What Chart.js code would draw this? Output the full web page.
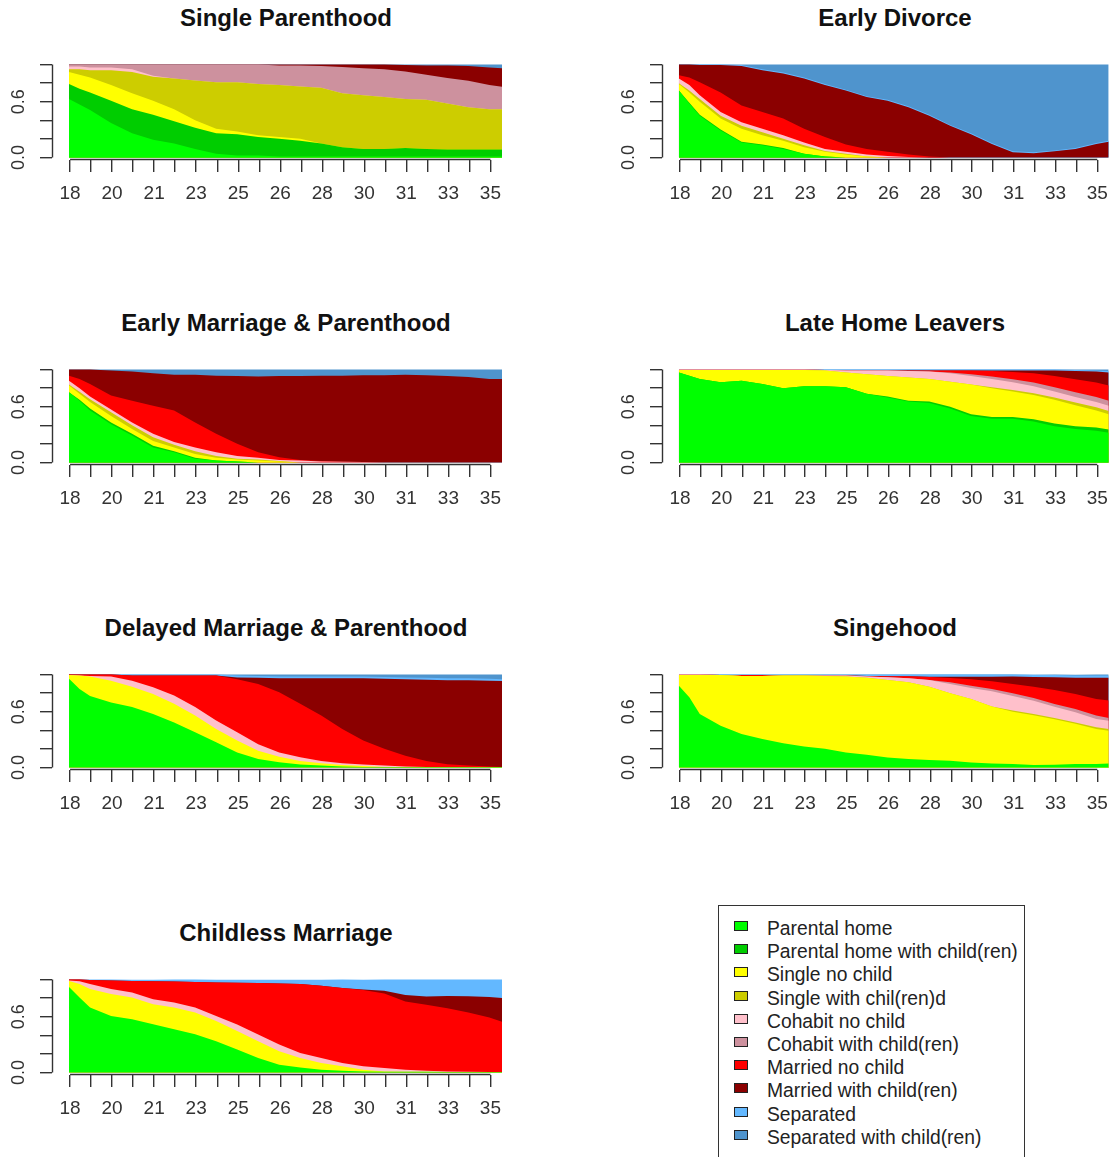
<!DOCTYPE html>
<html>
<head>
<meta charset="utf-8">
<title>State distribution plots by cluster</title>
<script src="https://cdn.jsdelivr.net/npm/chart.js@4/dist/chart.umd.min.js"></script>
<style>
  html, body { margin: 0; padding: 0; background: #fff; overflow: hidden; }
  #page { position: relative; width: 1118px; height: 1157px; }
  .title { position: absolute; width: 450px; text-align: center; white-space: nowrap;
           font: bold 24px "Liberation Sans", Arial, sans-serif; line-height: 24px; color: #111; }
  canvas { position: absolute; }
  #legend { position: absolute; left: 718px; top: 905px; width: 307px; height: 300px;
            border: 1px solid #333; box-sizing: border-box; }
  .item { position: absolute; left: 0; height: 23px; white-space: nowrap;
          font: 19.3px "Liberation Sans", Arial, sans-serif; line-height: 23px; color: #222; }
  .swatch { position: absolute; left: 15px; top: 4px; width: 14px; height: 10px;
            border: 1px solid #222; box-sizing: border-box; }
  .label { position: absolute; left: 48px; top: 0; }
</style>
</head>
<body>
<div id="page"><div id="legend"></div></div>
<script>
// Months since the 18th birthday at which the state shares are sampled
const months = [0, 5, 10, 20, 30, 40, 50, 60, 70, 80, 90, 100, 110, 120, 130, 140, 150, 160, 170, 180, 190, 200, 206];

// Axis ticks: one every 10 months, ages printed on every other tick
const tickMonths = [0, 10, 20, 30, 40, 50, 60, 70, 80, 90, 100, 110, 120, 130, 140, 150, 160, 170, 180, 190, 200];
const ageTickLabels = ['18', '20', '21', '23', '25', '26', '28', '30', '31', '33', '35'];
const shareTicks = [0, 0.2, 0.4, 0.6, 0.8, 1.0];
const shareTickLabels = ['0.0', '', '', '0.6', '', ''];

// Living arrangement states (stacked bottom to top)
const stateLabels = ['Parental home', 'Parental home with child(ren)', 'Single no child', 'Single with chil(ren)d',
  'Cohabit no child', 'Cohabit with child(ren)', 'Married no child', 'Married with child(ren)',
  'Separated', 'Separated with child(ren)'];
const stateColors = ['#00FF00', '#00CD00', '#FFFF00', '#CDCD00', '#FFC0CB', '#CD919E', '#FF0000', '#8B0000', '#63B8FF', '#4F94CD'];

// Single Parenthood
const sp_parental = [0.63, 0.57, 0.51, 0.37, 0.26, 0.19, 0.15, 0.09, 0.04, 0.02, 0.02, 0.01, 0.01, 0.01, 0.01, 0.01, 0.01, 0.01, 0.01, 0.01, 0.01, 0.01, 0.01];
const sp_parentalChild = [0.16, 0.17, 0.19, 0.24, 0.26, 0.27, 0.24, 0.23, 0.22, 0.23, 0.20, 0.19, 0.17, 0.14, 0.10, 0.08, 0.08, 0.09, 0.08, 0.075, 0.075, 0.075, 0.075];
const sp_single = [0.13, 0.15, 0.16, 0.17, 0.17, 0.15, 0.13, 0.08, 0.05, 0.03, 0.02, 0.02, 0.02, 0, 0, 0, 0, 0, 0, 0, 0, 0, 0];
const sp_singleChild = [0.03, 0.06, 0.08, 0.16, 0.23, 0.26, 0.33, 0.43, 0.50, 0.53, 0.55, 0.56, 0.565, 0.60, 0.58, 0.58, 0.56, 0.53, 0.53, 0.495, 0.455, 0.435, 0.435];
const sp_cohabit = [0.03, 0.03, 0.03, 0.03, 0.03, 0.01, 0, 0, 0, 0, 0, 0, 0, 0, 0, 0, 0, 0, 0, 0, 0, 0, 0];
const sp_cohabitChild = [0.02, 0.02, 0.03, 0.03, 0.05, 0.12, 0.15, 0.17, 0.19, 0.19, 0.21, 0.21, 0.225, 0.235, 0.285, 0.29, 0.30, 0.295, 0.27, 0.275, 0.285, 0.26, 0.24];
const sp_marriedChild = [0, 0, 0, 0, 0, 0, 0, 0, 0, 0, 0, 0.01, 0.01, 0.015, 0.025, 0.04, 0.05, 0.07, 0.10, 0.135, 0.16, 0.19, 0.20];
const sp_separatedChild = [0, 0, 0, 0, 0, 0, 0, 0, 0, 0, 0, 0, 0, 0, 0, 0, 0, 0.005, 0.01, 0.01, 0.015, 0.03, 0.04];

// Early Divorce
const ed_parental = [0.72, 0.58, 0.45, 0.29, 0.16, 0.13, 0.09, 0.04, 0.01, 0, 0, 0, 0, 0, 0, 0, 0, 0, 0, 0, 0, 0, 0];
const ed_parentalChild = [0, 0.01, 0.01, 0.01, 0.01, 0.01, 0.01, 0, 0, 0, 0, 0, 0, 0, 0, 0, 0, 0, 0, 0, 0, 0, 0];
const ed_single = [0.07, 0.11, 0.14, 0.12, 0.14, 0.10, 0.08, 0.07, 0.05, 0.03, 0.01, 0, 0, 0, 0, 0, 0, 0, 0, 0, 0, 0, 0];
const ed_singleChild = [0.01, 0.02, 0.03, 0.03, 0.03, 0.03, 0.02, 0.02, 0.01, 0.01, 0, 0, 0, 0, 0, 0, 0, 0, 0, 0, 0, 0, 0];
const ed_cohabit = [0.05, 0.06, 0.04, 0.04, 0.04, 0.04, 0.04, 0.03, 0.02, 0.02, 0.02, 0.015, 0.005, 0, 0, 0, 0, 0, 0, 0, 0, 0, 0];
const ed_married = [0.035, 0.08, 0.14, 0.21, 0.18, 0.18, 0.18, 0.15, 0.13, 0.08, 0.06, 0.045, 0.025, 0.01, 0, 0, 0, 0, 0, 0, 0, 0, 0];
const ed_marriedChild = [0.115, 0.14, 0.185, 0.295, 0.425, 0.45, 0.485, 0.54, 0.56, 0.58, 0.56, 0.55, 0.51, 0.44, 0.34, 0.25, 0.145, 0.055, 0.045, 0.065, 0.09, 0.145, 0.17];
const ed_separated = [0, 0, 0.005, 0.005, 0.01, 0.01, 0.01, 0.01, 0.01, 0.01, 0.01, 0.01, 0.01, 0.01, 0.01, 0.01, 0.01, 0.01, 0.01, 0.01, 0.01, 0.01, 0.01];
const ed_separatedChild = [0, 0, 0, 0, 0.005, 0.05, 0.085, 0.14, 0.21, 0.27, 0.34, 0.38, 0.45, 0.54, 0.65, 0.74, 0.845, 0.935, 0.945, 0.925, 0.90, 0.845, 0.82];

// Early Marriage & Parenthood
const em_parental = [0.755, 0.665, 0.56, 0.41, 0.29, 0.16, 0.11, 0.04, 0.02, 0.01, 0, 0, 0, 0, 0, 0, 0, 0, 0, 0, 0, 0, 0];
const em_parentalChild = [0, 0.01, 0.02, 0.02, 0.02, 0.02, 0.01, 0.01, 0, 0, 0, 0, 0, 0, 0, 0, 0, 0, 0, 0, 0, 0, 0];
const em_single = [0.075, 0.065, 0.07, 0.07, 0.05, 0.05, 0.04, 0.04, 0.03, 0.02, 0.02, 0.01, 0, 0, 0, 0, 0, 0, 0, 0, 0, 0, 0];
const em_singleChild = [0.01, 0.02, 0.03, 0.04, 0.04, 0.04, 0.03, 0.03, 0.02, 0.01, 0.01, 0.005, 0, 0, 0, 0, 0, 0, 0, 0, 0, 0, 0];
const em_cohabit = [0.04, 0.04, 0.03, 0.03, 0.03, 0.04, 0.03, 0.04, 0.04, 0.03, 0.02, 0.01, 0.02, 0.01, 0.007, 0.004, 0, 0, 0, 0, 0, 0, 0];
const em_married = [0.055, 0.10, 0.135, 0.15, 0.235, 0.30, 0.34, 0.27, 0.20, 0.13, 0.06, 0.03, 0.005, 0.005, 0, 0, 0, 0, 0, 0, 0, 0, 0];
const em_marriedChild = [0.065, 0.10, 0.155, 0.27, 0.315, 0.35, 0.385, 0.515, 0.625, 0.73, 0.815, 0.875, 0.905, 0.92, 0.928, 0.936, 0.94, 0.945, 0.94, 0.93, 0.92, 0.90, 0.90];
const em_separatedChild = [0, 0, 0, 0.01, 0.02, 0.04, 0.055, 0.055, 0.065, 0.07, 0.075, 0.07, 0.07, 0.065, 0.065, 0.06, 0.06, 0.055, 0.06, 0.07, 0.08, 0.10, 0.10];

// Late Home Leavers
const lh_parental = [0.97, 0.935, 0.90, 0.865, 0.88, 0.845, 0.80, 0.82, 0.82, 0.81, 0.74, 0.70, 0.655, 0.64, 0.58, 0.50, 0.47, 0.47, 0.44, 0.39, 0.36, 0.34, 0.32];
const lh_parentalChild = [0, 0, 0, 0, 0, 0, 0, 0, 0, 0, 0, 0.01, 0.01, 0.015, 0.02, 0.02, 0.02, 0.02, 0.025, 0.03, 0.03, 0.035, 0.035];
const lh_single = [0.025, 0.06, 0.095, 0.13, 0.115, 0.15, 0.195, 0.175, 0.17, 0.16, 0.21, 0.22, 0.25, 0.245, 0.27, 0.32, 0.31, 0.275, 0.26, 0.255, 0.225, 0.185, 0.165];
const lh_singleChild = [0, 0, 0, 0, 0, 0, 0, 0, 0, 0, 0, 0, 0, 0, 0, 0, 0.01, 0.015, 0.02, 0.025, 0.03, 0.035, 0.035];
const lh_cohabit = [0.005, 0.005, 0.005, 0.005, 0.005, 0.005, 0.005, 0.005, 0.005, 0.02, 0.04, 0.06, 0.07, 0.08, 0.09, 0.09, 0.09, 0.085, 0.075, 0.065, 0.06, 0.055, 0.055];
const lh_cohabitChild = [0, 0, 0, 0, 0, 0, 0, 0, 0, 0, 0, 0, 0, 0, 0.01, 0.02, 0.025, 0.03, 0.04, 0.045, 0.05, 0.055, 0.055];
const lh_married = [0, 0, 0, 0, 0, 0, 0, 0, 0, 0, 0, 0, 0.005, 0.01, 0.02, 0.04, 0.06, 0.08, 0.10, 0.12, 0.14, 0.155, 0.165];
const lh_marriedChild = [0, 0, 0, 0, 0, 0, 0, 0, 0, 0, 0, 0, 0, 0, 0, 0, 0.005, 0.015, 0.03, 0.06, 0.09, 0.12, 0.14];
const lh_separated = [0, 0, 0, 0, 0, 0, 0, 0, 0.005, 0.01, 0.01, 0.01, 0.01, 0.01, 0.01, 0.01, 0.01, 0.01, 0.01, 0.01, 0.01, 0.01, 0.015];
const lh_separatedChild = [0, 0, 0, 0, 0, 0, 0, 0, 0, 0, 0, 0, 0, 0, 0, 0, 0, 0, 0, 0, 0.005, 0.01, 0.015];

// Delayed Marriage & Parenthood
const dm_parental = [0.955, 0.845, 0.77, 0.70, 0.65, 0.575, 0.485, 0.38, 0.27, 0.16, 0.09, 0.055, 0.03, 0.02, 0.01, 0.005, 0.005, 0.005, 0.005, 0.005, 0.005, 0.005, 0.005];
const dm_single = [0.04, 0.145, 0.21, 0.235, 0.22, 0.215, 0.20, 0.18, 0.145, 0.13, 0.09, 0.06, 0.04, 0.025, 0.015, 0.01, 0, 0, 0, 0, 0, 0, 0];
const dm_cohabit = [0, 0, 0.005, 0.045, 0.065, 0.075, 0.09, 0.09, 0.09, 0.09, 0.07, 0.045, 0.04, 0.025, 0.02, 0.015, 0.015, 0.005, 0, 0, 0, 0, 0];
const dm_married = [0.005, 0.01, 0.015, 0.02, 0.055, 0.125, 0.215, 0.34, 0.485, 0.57, 0.65, 0.65, 0.575, 0.49, 0.37, 0.26, 0.18, 0.115, 0.065, 0.03, 0.015, 0.005, 0];
const dm_marriedChild = [0, 0, 0, 0, 0, 0, 0, 0, 0, 0.02, 0.065, 0.15, 0.275, 0.40, 0.545, 0.67, 0.755, 0.825, 0.875, 0.905, 0.92, 0.925, 0.925];
const dm_separated = [0, 0, 0, 0, 0.01, 0.01, 0.01, 0.01, 0.01, 0.02, 0.02, 0.02, 0.02, 0.02, 0.02, 0.02, 0.02, 0.02, 0.02, 0.02, 0.02, 0.02, 0.02];
const dm_separatedChild = [0, 0, 0, 0, 0, 0, 0, 0, 0, 0.01, 0.015, 0.02, 0.02, 0.02, 0.02, 0.02, 0.025, 0.03, 0.035, 0.04, 0.04, 0.045, 0.05];

// Singehood
const sh_parental = [0.88, 0.755, 0.575, 0.45, 0.36, 0.305, 0.26, 0.225, 0.20, 0.16, 0.135, 0.108, 0.09, 0.079, 0.072, 0.054, 0.043, 0.036, 0.025, 0.029, 0.036, 0.036, 0.043];
const sh_single = [0.115, 0.24, 0.42, 0.545, 0.625, 0.68, 0.73, 0.765, 0.785, 0.82, 0.83, 0.835, 0.827, 0.791, 0.727, 0.683, 0.612, 0.565, 0.536, 0.489, 0.435, 0.378, 0.353];
const sh_singleChild = [0, 0, 0, 0, 0, 0, 0, 0, 0, 0, 0, 0, 0, 0, 0, 0, 0, 0.011, 0.014, 0.014, 0.014, 0.018, 0.018];
const sh_cohabit = [0.005, 0.005, 0.005, 0, 0, 0, 0, 0, 0.005, 0.01, 0.015, 0.029, 0.043, 0.072, 0.10, 0.119, 0.165, 0.158, 0.144, 0.122, 0.108, 0.09, 0.09];
const sh_cohabitChild = [0, 0, 0, 0, 0, 0, 0, 0, 0, 0, 0, 0, 0, 0, 0.018, 0.025, 0.025, 0.029, 0.029, 0.029, 0.036, 0.036, 0.029];
const sh_married = [0, 0, 0, 0, 0.01, 0.01, 0, 0, 0, 0, 0.005, 0.011, 0.022, 0.032, 0.047, 0.068, 0.083, 0.101, 0.122, 0.151, 0.162, 0.18, 0.187];
const sh_marriedChild = [0, 0, 0, 0, 0, 0, 0, 0, 0, 0, 0, 0, 0, 0.004, 0.014, 0.029, 0.05, 0.079, 0.104, 0.137, 0.176, 0.227, 0.245];
const sh_separated = [0, 0, 0, 0.005, 0.005, 0.005, 0.01, 0.01, 0.01, 0.01, 0.015, 0.018, 0.018, 0.022, 0.022, 0.022, 0.022, 0.022, 0.025, 0.024, 0.022, 0.026, 0.026];
const sh_separatedChild = [0, 0, 0, 0, 0, 0, 0, 0, 0, 0, 0, 0, 0, 0, 0, 0, 0, 0, 0, 0.005, 0.01, 0.01, 0.01];

// Childless Marriage
const cm_parental = [0.92, 0.808, 0.70, 0.609, 0.572, 0.518, 0.464, 0.41, 0.337, 0.246, 0.156, 0.083, 0.054, 0.029, 0.018, 0.011, 0.007, 0.007, 0.007, 0.004, 0.004, 0.004, 0.004];
const cm_single = [0.065, 0.145, 0.199, 0.236, 0.236, 0.217, 0.236, 0.236, 0.217, 0.199, 0.181, 0.145, 0.101, 0.072, 0.047, 0.018, 0.004, 0, 0, 0, 0, 0, 0];
const cm_cohabit = [0.005, 0.029, 0.054, 0.054, 0.054, 0.054, 0.054, 0.054, 0.054, 0.072, 0.072, 0.072, 0.054, 0.054, 0.036, 0.036, 0.036, 0.022, 0.011, 0.007, 0.004, 0, 0];
const cm_married = [0.01, 0.018, 0.043, 0.09, 0.123, 0.192, 0.225, 0.275, 0.362, 0.449, 0.554, 0.659, 0.743, 0.779, 0.808, 0.822, 0.804, 0.736, 0.71, 0.681, 0.638, 0.587, 0.543];
const cm_marriedChild = [0, 0, 0, 0, 0, 0, 0, 0, 0, 0, 0, 0, 0, 0, 0, 0.007, 0.029, 0.069, 0.091, 0.13, 0.174, 0.221, 0.254];
const cm_separated = [0, 0, 0.004, 0.011, 0.014, 0.018, 0.022, 0.025, 0.029, 0.033, 0.036, 0.04, 0.047, 0.065, 0.091, 0.105, 0.12, 0.167, 0.181, 0.178, 0.181, 0.188, 0.199];

// Panel grid: one entry per cluster, series listed in state order (null = state absent)
const panels = [
  { title: 'Single Parenthood', col: 0, row: 0,
    series: [sp_parental, sp_parentalChild, sp_single, sp_singleChild, sp_cohabit, sp_cohabitChild, null, sp_marriedChild, null, sp_separatedChild] },
  { title: 'Early Divorce', col: 1, row: 0,
    series: [ed_parental, ed_parentalChild, ed_single, ed_singleChild, ed_cohabit, null, ed_married, ed_marriedChild, ed_separated, ed_separatedChild] },
  { title: 'Early Marriage & Parenthood', col: 0, row: 1,
    series: [em_parental, em_parentalChild, em_single, em_singleChild, em_cohabit, null, em_married, em_marriedChild, null, em_separatedChild] },
  { title: 'Late Home Leavers', col: 1, row: 1,
    series: [lh_parental, lh_parentalChild, lh_single, lh_singleChild, lh_cohabit, lh_cohabitChild, lh_married, lh_marriedChild, lh_separated, lh_separatedChild] },
  { title: 'Delayed Marriage & Parenthood', col: 0, row: 2,
    series: [dm_parental, null, dm_single, null, dm_cohabit, null, dm_married, dm_marriedChild, dm_separated, dm_separatedChild] },
  { title: 'Singehood', col: 1, row: 2,
    series: [sh_parental, null, sh_single, sh_singleChild, sh_cohabit, sh_cohabitChild, sh_married, sh_marriedChild, sh_separated, sh_separatedChild] },
  { title: 'Childless Marriage', col: 0, row: 3,
    series: [cm_parental, null, cm_single, null, cm_cohabit, null, cm_married, cm_marriedChild, cm_separated, null] }
];

Chart.defaults.font.family = '"Liberation Sans", Arial, sans-serif';
const axisColor = '#333';

// Draws base-graphics style axis lines that run only between the first and last tick
const axisLines = {
  id: 'axisLines',
  afterDraw(chart) {
    const { ctx, chartArea, scales: { x, y } } = chart;
    ctx.save();
    ctx.strokeStyle = axisColor;
    ctx.lineWidth = 1.4;
    ctx.beginPath();
    const yb = chartArea.bottom - 0.5;
    ctx.moveTo(x.getPixelForValue(x.ticks[0].value), yb);
    ctx.lineTo(x.getPixelForValue(x.ticks[x.ticks.length - 1].value), yb);
    const xl = chartArea.left + 0.5;
    ctx.moveTo(xl, y.getPixelForValue(y.ticks[0].value));
    ctx.lineTo(xl, y.getPixelForValue(y.ticks[y.ticks.length - 1].value));
    ctx.stroke();
    ctx.restore();
  }
};

const page = document.getElementById('page');

panels.forEach(p => {
  const left = p.col === 0 ? 0 : 610;
  const width = p.col === 0 ? 520 : 508;
  const top = p.row * 305;

  const t = document.createElement('div');
  t.className = 'title';
  t.textContent = p.title;
  t.style.left = (p.col === 0 ? 61 : 670) + 'px';
  t.style.top = (top + 6) + 'px';
  page.appendChild(t);

  const canvas = document.createElement('canvas');
  canvas.width = width;
  canvas.height = 210;
  canvas.style.left = left + 'px';
  canvas.style.top = top + 'px';
  canvas.style.width = width + 'px';
  canvas.style.height = '210px';
  page.appendChild(canvas);

  const datasets = [];
  p.series.forEach((vals, i) => {
    if (!vals) return;
    datasets.push({
      label: stateLabels[i],
      data: vals.map((v, j) => ({ x: months[j], y: v })),
      backgroundColor: stateColors[i],
      borderColor: stateColors[i],
      borderWidth: 0,
      pointRadius: 0,
      pointHoverRadius: 0,
      tension: 0,
      fill: 'origin'
    });
  });

  new Chart(canvas, {
    type: 'line',
    data: { datasets },
    options: {
      responsive: false,
      animation: false,
      events: [],
      layout: { padding: { top: 62, right: width - 502, bottom: 0, left: 0 } },
      plugins: { legend: { display: false }, title: { display: false }, tooltip: { enabled: false } },
      scales: {
        x: {
          type: 'linear',
          min: -8.1,
          max: 206,
          afterBuildTicks: s => { s.ticks = tickMonths.map(m => ({ value: m + 0.5 })); },
          afterFit: s => { s.height = 50; },
          ticks: {
            autoSkip: false,
            maxRotation: 0,
            padding: 10,
            color: '#333',
            font: { size: 19 },
            callback: (v, i) => (i % 2 === 0 ? ageTickLabels[i / 2] : '')
          },
          grid: { drawOnChartArea: false, drawTicks: true, tickLength: 12, color: axisColor, lineWidth: 1.4 },
          border: { display: false }
        },
        y: {
          stacked: true,
          min: -0.028,
          max: 1.028,
          afterBuildTicks: s => { s.ticks = shareTicks.map(v => ({ value: v })); },
          afterFit: s => { s.width = 52; },
          ticks: {
            autoSkip: false,
            minRotation: 90,
            maxRotation: 90,
            crossAlign: 'center',
            padding: 8,
            color: '#333',
            font: { size: 18 },
            callback: (v, i) => shareTickLabels[i]
          },
          grid: { drawOnChartArea: false, drawTicks: true, tickLength: 12, color: axisColor, lineWidth: 1.4 },
          border: { display: false }
        }
      }
    },
    plugins: [axisLines]
  });
});

// Legend listing every state with its fill colour
const legend = document.getElementById('legend');
stateLabels.forEach((lab, i) => {
  const item = document.createElement('div');
  item.className = 'item';
  item.style.top = (11 + i * 23.2) + 'px';
  item.style.width = '100%';
  const sw = document.createElement('div');
  sw.className = 'swatch';
  sw.style.background = stateColors[i];
  const tx = document.createElement('div');
  tx.className = 'label';
  tx.textContent = lab;
  item.appendChild(sw);
  item.appendChild(tx);
  legend.appendChild(item);
});
</script>
</body>
</html>
